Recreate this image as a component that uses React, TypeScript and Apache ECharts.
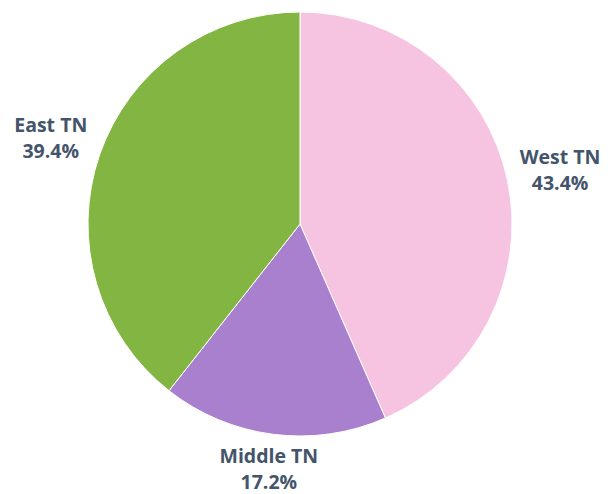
import React, { useEffect, useRef } from "react";
import * as echarts from "echarts";

const categories = ["West TN", "Middle TN", "East TN"];
const shares = [43.4, 17.2, 39.4];
const colors = ["#F6C3E0", "#A980CE", "#82B541"];

const CX = 300;
const CY = 224;
const R = 212;
const H = 494;

export default function App() {
  const ref = useRef<HTMLDivElement>(null);
  useEffect(() => {
    if (!ref.current) return;
    const chart = echarts.init(ref.current, null, { renderer: "svg" });
    const total = shares.reduce((a, b) => a + b, 0);
    const mids: number[] = [];
    let acc = 0;
    shares.forEach((v) => {
      mids.push(((acc + v / 2) / total) * Math.PI * 2);
      acc += v;
    });
    chart.setOption({
      animation: false,
      series: [
        {
          type: "pie",
          center: [CX, CY],
          radius: R,
          startAngle: 90,
          clockwise: true,
          data: categories.map((c, i) => ({
            name: c,
            value: shares[i],
            itemStyle: { color: colors[i] },
          })),
          itemStyle: { borderColor: "#ffffff", borderWidth: 1 },
          label: {
            show: true,
            position: "inside",
            formatter: (p: any) => `${p.name}\n${p.value.toFixed(1)}%`,
            fontFamily: "Open Sans",
            fontWeight: "bold",
            fontSize: 19.5,
            lineHeight: 26,
            color: "#44546A",
            align: "center",
          },
          labelLine: { show: false },
          labelLayout: (params: any) => {
            const a = mids[params.dataIndex];
            const dx = Math.sin(a);
            const dy = -Math.cos(a);
            const w = params.labelRect.width;
            const h = params.labelRect.height;
            const support = (w / 2) * Math.abs(dx) + (h / 2) * Math.abs(dy);
            const d = R + 4 + support + 5 * Math.abs(dx);
            const y = Math.min(CY + d * dy, H - h / 2);
            return {
              x: CX + d * dx,
              y,
              align: "center",
              verticalAlign: "middle",
            };
          },
        },
      ],
    });
    return () => chart.dispose();
  }, []);
  return (
    <div
      ref={ref}
      style={{ position: "fixed", left: 0, top: 0, width: 616, height: 494, background: "#fff" }}
    />
  );
}
